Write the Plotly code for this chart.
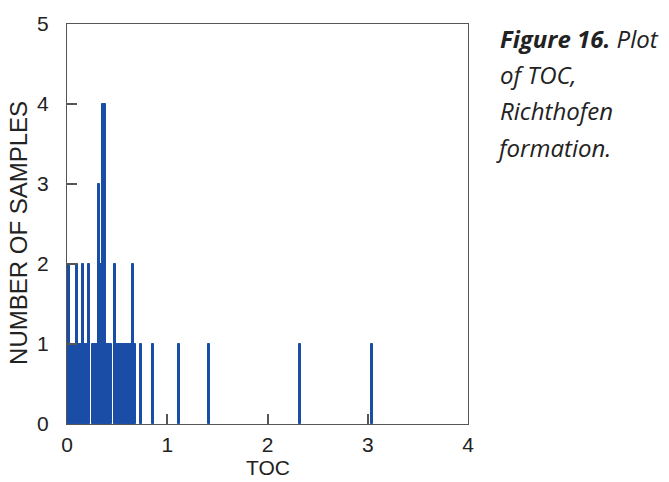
import plotly.graph_objects as go

# Histogram of TOC values (bin centres, bin width 0.02) and number of samples
toc_bins = [0.00, 0.02, 0.04, 0.06, 0.08, 0.10, 0.12, 0.14, 0.16, 0.18,
            0.20, 0.22, 0.26, 0.28, 0.30, 0.32, 0.34, 0.36, 0.38, 0.40,
            0.42, 0.44, 0.48, 0.50, 0.52, 0.54, 0.56, 0.58, 0.60, 0.62,
            0.64, 0.66, 0.68, 0.74, 0.86, 1.12, 1.42, 2.32, 3.04]
sample_counts = [1, 2, 1, 1, 1, 2, 1, 1, 2, 1,
                 1, 2, 1, 1, 1, 3, 2, 4, 4, 1,
                 1, 1, 2, 1, 1, 1, 1, 1, 1, 1,
                 1, 2, 1, 1, 1, 1, 1, 1, 1]
bin_width = 0.02

x_ticks = [0, 1, 2, 3, 4]
y_ticks = [0, 1, 2, 3, 4, 5]

caption_lines = ["<b>Figure 16.</b> Plot", "of TOC,", "Richthofen", "formation."]

BLUE = "#1a4da6"
AXIS = "#555555"

fig = go.Figure()
fig.add_trace(go.Bar(
    x=toc_bins, y=sample_counts, width=bin_width,
    marker=dict(color=BLUE, line=dict(color=BLUE, width=1)),
    showlegend=False, hoverinfo="x+y",
))

L, R, T, B = 67, 201, 22, 58
W, H = 669, 482
pw, ph = W - L - R, H - T - B

fig.update_layout(
    width=W, height=H,
    margin=dict(l=L, r=R, t=T, b=B, pad=0),
    paper_bgcolor="white", plot_bgcolor="white",
    bargap=0,
    font=dict(family="Liberation Sans, Arial, sans-serif", color="#222"),
)
fig.update_xaxes(
    range=[0, 4], tickvals=x_ticks, ticktext=[str(v) for v in x_ticks],
    ticks="inside", ticklen=10, tickwidth=1.5, tickcolor=AXIS,
    showline=True, linecolor=AXIS, linewidth=1.2, mirror=True,
    showgrid=False, zeroline=False,
    tickfont=dict(size=21, color="#222"),
    ticklabelstandoff=2,
)
fig.update_yaxes(
    range=[0, 5], tickvals=y_ticks, ticktext=[str(v) for v in y_ticks],
    ticks="inside", ticklen=10, tickwidth=1.5, tickcolor=AXIS,
    showline=True, linecolor=AXIS, linewidth=1.2, mirror=True,
    showgrid=False, zeroline=False,
    tickfont=dict(size=21, color="#222"),
    ticklabelstandoff=13,
)

def px_x(px):
    return (px - L) / pw

def px_y(py):
    return (H - B - py) / ph

# axis titles
fig.add_annotation(text="TOC", xref="paper", yref="paper",
                   x=px_x(268), y=px_y(468), xanchor="center", yanchor="middle",
                   showarrow=False, font=dict(size=21, color="#222"))
fig.add_annotation(text="NUMBER OF SAMPLES", xref="paper", yref="paper",
                   x=px_x(19), y=px_y(232), xanchor="center", yanchor="middle",
                   textangle=-90, showarrow=False, font=dict(size=24, color="#222"))

# caption
baselines = [45, 81, 117, 154]
caption_x = [498, 498, 498, 494]
for line, bl, cx in zip(caption_lines, baselines, caption_x):
    fig.add_annotation(text="<i>" + line + "</i>", xref="paper", yref="paper",
                       x=px_x(cx), y=px_y(bl - 8), xanchor="left", yanchor="middle",
                       showarrow=False, align="left",
                       font=dict(size=24, family="Open Sans, sans-serif", color="#222"))

fig.write_html("out.html")
